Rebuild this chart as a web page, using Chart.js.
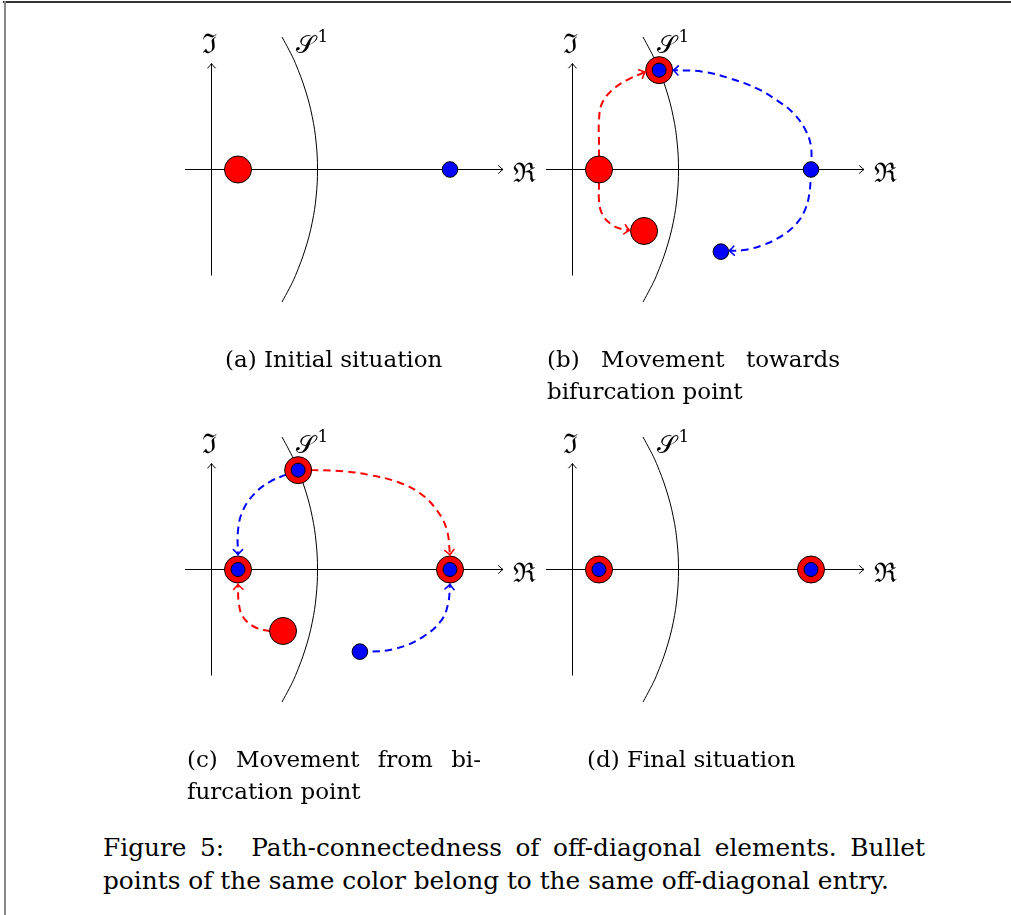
<!DOCTYPE html>
<html>
<head>
<meta charset="utf-8">
<script src="https://cdn.jsdelivr.net/npm/chart.js@4"></script>
<style>
  html, body { margin:0; padding:0; background:#fff; }
  body { width:1011px; height:915px; position:relative; overflow:hidden; }
  canvas { position:absolute; }
  .frameTop { position:absolute; left:3px; top:1px; width:1008px; height:2px; background:#333; }
  .frameLeft { position:absolute; left:4px; top:1px; width:2px; height:914px; background:#888; }
  .lbl { position:absolute; font-family:"DejaVu Serif", serif; color:#000; white-space:nowrap; line-height:1; z-index:5; }
  .cap { position:absolute; font-family:"DejaVu Serif", serif; font-size:23px; line-height:32px; color:#000; white-space:nowrap; z-index:5; }
  .just { text-align:justify; text-align-last:justify; white-space:normal; }
  sup { font-size:0.68em; vertical-align:0.62em; line-height:0; margin-left:3px; }
</style>
</head>
<body>
<div class="frameTop"></div>
<div class="frameLeft"></div>

<canvas id="pa" width="371" height="340"></canvas>
<canvas id="pb" width="371" height="340"></canvas>
<canvas id="pc" width="371" height="340"></canvas>
<canvas id="pd" width="371" height="340"></canvas>

<div id="labels"></div>

<div class="cap" style="left:225px; top:343px;">(a) Initial situation</div>
<div class="cap just" style="left:547px; top:343px; width:293px;">(b) Movement towards</div>
<div class="cap" style="left:547px; top:375px;">bifurcation point</div>
<div class="cap just" style="left:187px; top:743px; width:294px;">(c) Movement from bi-</div>
<div class="cap" style="left:187px; top:775px;">furcation point</div>
<div class="cap" style="left:587px; top:743px;">(d) Final situation</div>
<div class="cap just" style="left:103px; top:831px; width:822px; font-size:24.8px; line-height:33px;">Figure 5:&nbsp; Path-connectedness of off-diagonal elements. Bullet</div>
<div class="cap" style="left:103px; top:864px; font-size:24.8px; line-height:33px;">points of the same color belong to the same off-diagonal entry.</div>

<script>
// ---------------- data (in plot units) ----------------
// unit circle S^1 arc
const arcX = [2.66, 2.93, 3.17, 3.54, 3.80, 3.95, 4.00, 3.95, 3.80, 3.54, 3.17, 2.93, 2.66];
const arcY = [5.0, 4.5, 4.0, 3.0, 2.0, 1.0, 0.0, -1.0, -2.0, -3.0, -4.0, -4.5, -5.0];
// axes
const realAxis = [[-1, 0], [11, 0]];
const imagAxis = [[0, -4], [0, 4]];

// panel (a) Initial situation
const aRed = [[1, 0]];
const aBlueLone = [[9, 0]];
const aBlueInner = [];

// panel (b) Movement towards bifurcation point
const bRed = [[1, 0], [3.27, 3.75], [2.7, -2.32]];
const bBlueLone = [[9, 0], [5.6, -3.1]];
const bBlueInner = [[3.27, 3.75]];
const bRedUp = [[1, 0], [1, 1.0], [1, 1.86], [1.11, 2.49], [1.49, 2.99], [2.05, 3.37], [2.74, 3.68]];
const bRedDown = [[1, 0], [1, -0.6], [1, -1.16], [1.11, -1.66], [1.42, -2.04], [1.8, -2.23], [2.15, -2.29]];
const bBlueUp = [[9, 0], [9, 0.86], [8.79, 1.49], [8.34, 2.12], [7.70, 2.62], [6.95, 3.06], [5.94, 3.44], [4.93, 3.69], [3.8, 3.75]];
const bBlueDown = [[9, 0], [8.94, -0.9], [8.77, -1.53], [8.46, -2.03], [7.95, -2.47], [7.2, -2.85], [6.45, -3.04], [5.91, -3.07]];

// panel (c) Movement from bifurcation point
const cRed = [[3.27, 3.75], [1, 0], [9, 0], [2.7, -2.32]];
const cBlueLone = [[5.6, -3.1]];
const cBlueInner = [[3.27, 3.75], [1, 0], [9, 0]];
const cRedTop = [[3.27, 3.75], [3.83, 3.75], [4.97, 3.71], [6.0, 3.56], [7.0, 3.31], [7.88, 2.87], [8.5, 2.24], [8.88, 1.5], [9, 0.55]];
const cBlueTop = [[3.27, 3.75], [2.77, 3.56], [2.2, 3.31], [1.63, 2.87], [1.19, 2.24], [1.0, 1.48], [1.0, 0.56]];
const cRedLow = [[2.7, -2.32], [2.2, -2.32], [1.63, -2.17], [1.19, -1.79], [1.03, -1.28], [1.0, -0.56]];
const cBlueLow = [[5.6, -3.1], [5.91, -3.11], [6.98, -2.98], [7.98, -2.54], [8.68, -1.91], [8.93, -1.28], [9, -0.56]];

// panel (d) Final situation
const dRed = [[1, 0], [9, 0]];
const dBlueLone = [];
const dBlueInner = [[1, 0], [9, 0]];

// axis labels
const imagLabel = '\u2111';
const realLabel = '\u211C';
const circleLabel = '\uD835\uDCAE';

// ---------------- layout ----------------
const UNIT = 26.5;           // px per plot unit
const CW = 371, CH = 340;    // canvas size
const OX = 51.5, OY = 161.5; // origin inside canvas
const panels = [
  { id: 'pa', left: 160, top: 8 },
  { id: 'pb', left: 521, top: 8 },
  { id: 'pc', left: 160, top: 408 },
  { id: 'pd', left: 521, top: 408 }
];

const RED = '#ff0000', BLUE = '#0000ff';
const pts = arr => arr.map(([x, y]) => ({ x, y }));
const arcPts = arcX.map((x, i) => ({ x, y: arcY[i] }));

const arrowPlugin = {
  id: 'arrowHeads',
  afterDatasetsDraw(chart) {
    const ctx = chart.ctx;
    chart.data.datasets.forEach((ds, i) => {
      if (!ds.arrow) return;
      const el = chart.getDatasetMeta(i).data;
      const n = el.length;
      if (n < 2) return;
      const tip = el[n - 1], prev = el[n - 2];
      const ang = Math.atan2(tip.y - prev.y, tip.x - prev.x);
      const L = ds.arrow.len, W = ds.arrow.half;
      ctx.save();
      ctx.translate(tip.x, tip.y);
      ctx.rotate(ang);
      ctx.setLineDash([]);
      ctx.strokeStyle = ds.borderColor;
      ctx.lineWidth = ds.arrow.width;
      ctx.lineCap = 'round';
      ctx.beginPath();
      ctx.moveTo(-L, -W);
      ctx.quadraticCurveTo(-L * 0.3, -W * 0.2, 0, 0);
      ctx.quadraticCurveTo(-L * 0.3, W * 0.2, -L, W);
      ctx.stroke();
      ctx.restore();
    });
  }
};

function lineDs(data, color, width, dash, tension, arrow, order) {
  return {
    data: pts(data), showLine: true, borderColor: color, borderWidth: width,
    borderDash: dash, tension: tension, pointRadius: 0, pointHoverRadius: 0,
    fill: false, arrow: arrow, order: order
  };
}
function dotDs(data, fill, radius, order) {
  return {
    data: pts(data), showLine: false, pointRadius: radius, pointHoverRadius: radius,
    backgroundColor: fill, borderColor: '#000', borderWidth: 1, order: order
  };
}

function baseDatasets() {
  return [
    { data: arcPts, showLine: true, borderColor: '#000', borderWidth: 1, tension: 0.4, pointRadius: 0, order: 5 },
    lineDs(realAxis, '#000', 1, [], 0, { len: 4.5, half: 3.8, width: 1 }, 5),
    lineDs(imagAxis, '#000', 1, [], 0, { len: 4.5, half: 3.8, width: 1 }, 5)
  ];
}
const PATH_ARROW = { len: 5, half: 4.6, width: 1.6 };
const DASH = [7.5, 5];

const panelData = [
  { red: aRed, lone: aBlueLone, inner: aBlueInner, paths: [] },
  { red: bRed, lone: bBlueLone, inner: bBlueInner, paths: [
      [bRedUp, RED], [bRedDown, RED], [bBlueUp, BLUE], [bBlueDown, BLUE] ] },
  { red: cRed, lone: cBlueLone, inner: cBlueInner, paths: [
      [cRedTop, RED], [cBlueTop, BLUE], [cRedLow, RED], [cBlueLow, BLUE] ] },
  { red: dRed, lone: dBlueLone, inner: dBlueInner, paths: [] }
];

const xMin = -OX / UNIT, xMax = xMin + CW / UNIT;
const yMax = OY / UNIT, yMin = yMax - CH / UNIT;

panels.forEach((p, k) => {
  const cv = document.getElementById(p.id);
  cv.style.left = p.left + 'px';
  cv.style.top = p.top + 'px';
  const pd = panelData[k];
  const datasets = [
    dotDs(pd.inner, BLUE, 7, 0),
    dotDs(pd.lone, BLUE, 7.8, 0),
    dotDs(pd.red, RED, 13.5, 1),
    ...pd.paths.map(([d, c]) => lineDs(d, c, 2, DASH, 0.4, PATH_ARROW, 2)),
    ...baseDatasets()
  ];
  new Chart(cv, {
    type: 'scatter',
    data: { datasets },
    options: {
      responsive: false, animation: false, devicePixelRatio: 1, events: [],
      layout: { padding: 0, autoPadding: false },
      plugins: { legend: { display: false }, tooltip: { enabled: false } },
      scales: {
        x: { type: 'linear', display: false, min: xMin, max: xMax },
        y: { type: 'linear', display: false, min: yMin, max: yMax }
      }
    },
    plugins: [arrowPlugin]
  });

  // axis labels (text)
  const ox = p.left + OX, oy = p.top + OY;
  const host = document.getElementById('labels');
  const im = document.createElement('div');
  im.className = 'lbl'; im.textContent = imagLabel;
  im.style.fontSize = '27px';
  im.style.left = (ox - 10) + 'px'; im.style.top = (oy - 140) + 'px';
  host.appendChild(im);
  const re = document.createElement('div');
  re.className = 'lbl'; re.textContent = realLabel;
  re.style.fontSize = '27px';
  re.style.left = (ox + 301) + 'px'; re.style.top = (oy - 11) + 'px';
  host.appendChild(re);
  const s1 = document.createElement('div');
  s1.className = 'lbl';
  s1.innerHTML = circleLabel + '<sup>1</sup>';
  s1.style.fontSize = '25px';
  s1.style.left = (ox + 84) + 'px'; s1.style.top = (oy - 138) + 'px';
  host.appendChild(s1);
});
</script>
</body>
</html>
